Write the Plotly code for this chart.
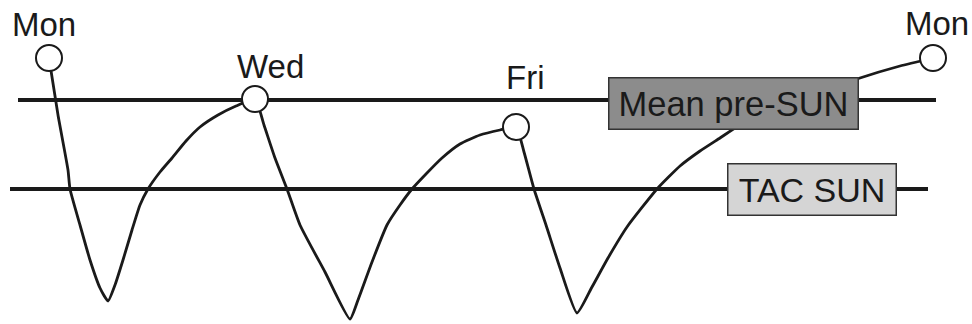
import plotly.graph_objects as go

# schematic trough curve (arbitrary time units / level units)
curve_x = [49, 58, 68, 70, 80, 90, 100, 108, 115, 123, 132, 140, 148, 160, 172, 186, 200, 218, 236, 255,
           264, 275, 287, 300, 325, 350, 358, 372, 387, 400, 412, 426, 442, 460, 480, 500, 516,
           524, 534, 546, 560, 577, 592, 608, 627, 657, 680, 700, 720, 740, 800, 860, 900, 933]
curve_y = [266, 209, 154, 135, 99, 64, 36, 23, 39, 64, 94, 119, 135, 152, 166, 183, 197, 209, 218, 225,
           199, 166, 135, 99, 52, 5, 24, 62, 99, 119, 135, 150, 166, 180, 189, 194, 197,
           172, 135, 99, 56, 11, 37, 66, 97, 135, 158, 173, 186, 199, 224, 246, 258, 266]

# dose days
day_labels = ["Mon", "Wed", "Fri", "Mon"]
day_x = [49, 255, 516, 933]
day_y = [266, 225, 197, 266]
label_x = [44, 270, 525, 937]
label_y = [300, 258, 247, 301]

# reference levels
mean_level = 224
mean_span = [18, 936]
tac_level = 135
tac_span = [10, 928]

font = "Liberation Sans, Arial, sans-serif"
ink = "#1a1a1a"

fig = go.Figure()
fig.add_trace(go.Scatter(x=mean_span, y=[mean_level] * 2, mode="lines",
                         line=dict(color=ink, width=4)))
fig.add_trace(go.Scatter(x=tac_span, y=[tac_level] * 2, mode="lines",
                         line=dict(color=ink, width=4)))
fig.add_trace(go.Scatter(x=curve_x, y=curve_y, mode="lines",
                         line=dict(color=ink, width=2.8, shape="spline", smoothing=0.5)))
fig.add_trace(go.Scatter(x=day_x, y=day_y, mode="markers",
                         marker=dict(size=26, color="white", line=dict(color=ink, width=2))))

for t, x, y in zip(day_labels, label_x, label_y):
    fig.add_annotation(x=x, y=y, text=t, showarrow=False,
                       font=dict(family=font, size=33, color=ink))

# level boxes
fig.add_annotation(x=733.5, y=220.5, text="Mean pre-SUN", showarrow=False,
                   width=248, height=50, borderpad=0, borderwidth=1.5,
                   bordercolor="#333333", bgcolor="#8c8c8c",
                   font=dict(family=font, size=34.5, color=ink))
fig.add_annotation(x=812, y=134.5, text="TAC SUN", showarrow=False,
                   width=167, height=50, borderpad=0, borderwidth=1.5,
                   bordercolor="#333333", bgcolor="#d5d5d5",
                   font=dict(family=font, size=34, color=ink))

fig.update_xaxes(visible=False, range=[0, 972])
fig.update_yaxes(visible=False, range=[0, 324])
fig.update_layout(width=972, height=324, margin=dict(l=0, r=0, t=0, b=0),
                  showlegend=False, hovermode=False,
                  plot_bgcolor="white", paper_bgcolor="white")

# drop the default 8px page margin so the figure fills the window
fig.write_html("out.html", config={"displayModeBar": False},
               post_script="document.body.style.margin='0';")
